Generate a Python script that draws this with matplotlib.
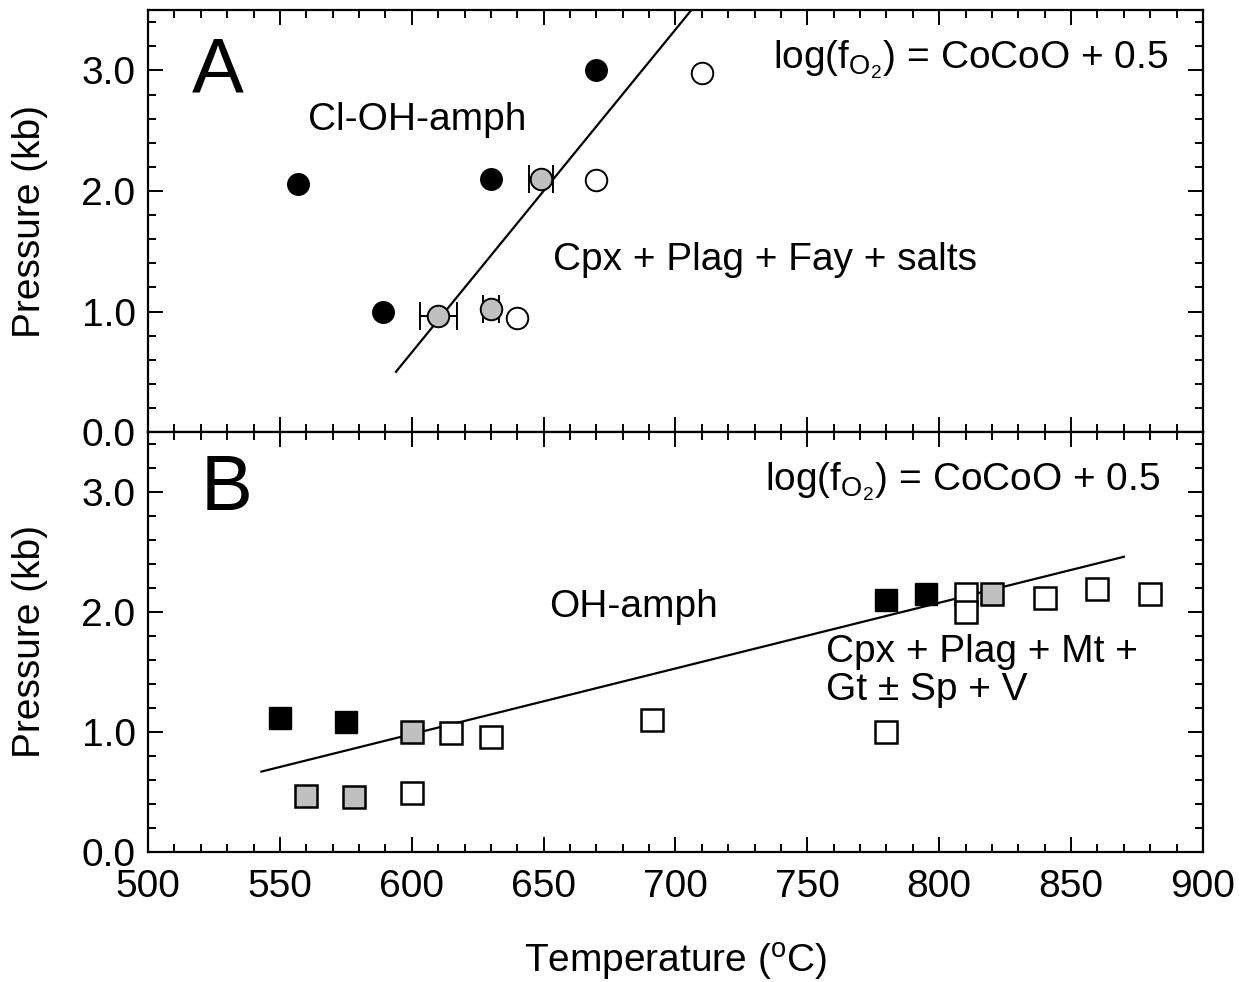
import matplotlib
matplotlib.use('Agg')
import matplotlib.pyplot as plt
from matplotlib.ticker import MultipleLocator, FormatStrFormatter

plt.rcParams['font.family'] = ['Liberation Sans', 'DejaVu Sans']
plt.rcParams['mathtext.fontset'] = 'custom'
plt.rcParams['mathtext.rm'] = 'Liberation Sans'
plt.rcParams['mathtext.it'] = 'Liberation Sans'

# Panel A: Cl-bearing runs (circles)
a_black_T = [557, 630, 670, 589]
a_black_P = [2.06, 2.10, 3.00, 1.00]
a_open_T = [710, 670, 640]
a_open_P = [2.98, 2.09, 0.95]
a_gray_T = [649, 610, 630]
a_gray_P = [2.10, 0.96, 1.02]
a_gray_err = [4.7, 7.0, 3.0]
a_line_T = [594, 706]
a_line_P = [0.50, 3.50]

# Panel B: OH runs (squares)
b_black_T = [550, 575, 780, 795]
b_black_P = [1.12, 1.08, 2.10, 2.15]
b_gray_T = [560, 578, 600, 820]
b_gray_P = [0.47, 0.46, 1.00, 2.15]
b_open_T = [600, 615, 630, 691, 780, 810, 810, 840, 860, 880]
b_open_P = [0.49, 0.99, 0.96, 1.10, 1.00, 2.15, 2.00, 2.12, 2.19, 2.15]
b_line_T = [543, 870]
b_line_P = [0.67, 2.46]

fig = plt.figure(figsize=(12.47, 9.82), dpi=100)
ax_a = fig.add_axes([0.1187, 0.560, 0.846, 0.4297])
ax_b = fig.add_axes([0.1187, 0.1324, 0.846, 0.4277])

gray = '#c0c0c0'
fs = 28
fo2 = r'log(f$_{\mathrm{O}_{2}}$) = CoCoO + 0.5'

for ax in (ax_a, ax_b):
    ax.set_xlim(500, 900)
    ax.set_ylim(0, 3.5)
    ax.xaxis.set_major_locator(MultipleLocator(50))
    ax.xaxis.set_minor_locator(MultipleLocator(10))
    ax.yaxis.set_major_locator(MultipleLocator(1.0))
    ax.yaxis.set_minor_locator(MultipleLocator(0.2))
    ax.yaxis.set_major_formatter(FormatStrFormatter('%.1f'))
    ax.tick_params(which='both', direction='in', top=True, right=True, width=1.4, labelsize=fs)
    ax.tick_params(which='major', length=11)
    ax.tick_params(which='minor', length=6)
    ax.tick_params(axis='y', pad=9)
    ax.tick_params(axis='x', pad=12)
    for s in ax.spines.values():
        s.set_linewidth(1.6)
    ax.set_ylabel('Pressure (kb)', fontsize=fs, labelpad=24)

ax_a.tick_params(labelbottom=False)

# panel A
ax_a.plot(a_line_T, a_line_P, color='black', lw=1.6, zorder=2)
ax_a.errorbar(a_gray_T, a_gray_P, xerr=a_gray_err, fmt='none', ecolor='black',
              elinewidth=1.4, capsize=10, capthick=1.4, zorder=3)
ax_a.plot(a_black_T, a_black_P, 'o', ms=15.5, mfc='black', mec='black', zorder=4)
ax_a.plot(a_open_T, a_open_P, 'o', ms=15.5, mfc='white', mec='black', mew=1.4, zorder=4)
ax_a.plot(a_gray_T, a_gray_P, 'o', ms=15.5, mfc=gray, mec='black', mew=1.4, zorder=4)

ax_a.text(0.066, 0.853, 'A', transform=ax_a.transAxes, fontsize=56,
          ha='center', va='center')
ax_a.text(602, 2.59, 'Cl-OH-amph', fontsize=fs, ha='center', va='center')
ax_a.text(734, 1.43, 'Cpx + Plag + Fay + salts', fontsize=fs, ha='center', va='center')
ax_a.text(887, 3.09, fo2, fontsize=fs, ha='right', va='center')

# panel B
ax_b.plot(b_line_T, b_line_P, color='black', lw=1.6, zorder=2)
ax_b.plot(b_black_T, b_black_P, 's', ms=16.5, mfc='black', mec='black', zorder=4)
ax_b.plot(b_gray_T, b_gray_P, 's', ms=16.5, mfc=gray, mec='black', mew=1.8, zorder=4)
ax_b.plot(b_open_T, b_open_P, 's', ms=16.5, mfc='white', mec='black', mew=1.8, zorder=4)

ax_b.text(0.074, 0.862, 'B', transform=ax_b.transAxes, fontsize=56,
          ha='center', va='center')
ax_b.text(684, 2.04, 'OH-amph', fontsize=fs, ha='center', va='center')
ax_b.text(757, 1.67, 'Cpx + Plag + Mt +', fontsize=fs, ha='left', va='center')
ax_b.text(757, 1.35, 'Gt \u00b1 Sp + V', fontsize=fs, ha='left', va='center')
ax_b.text(884, 3.09, fo2, fontsize=fs, ha='right', va='center')
ax_b.set_xlabel(r'Temperature ($^{\mathrm{o}}$C)', fontsize=fs, labelpad=26)

fig.savefig('out.png', dpi=100)
